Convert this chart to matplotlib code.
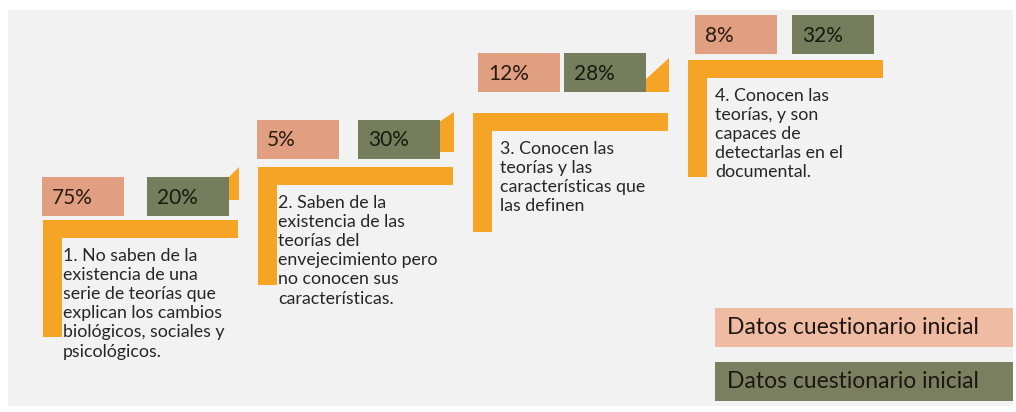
import matplotlib
matplotlib.use("Agg")
import matplotlib.pyplot as plt
from matplotlib.patches import Rectangle, Polygon

# ---------------- data ----------------
steps = ["1", "2", "3", "4"]
initial_pct = [75, 5, 12, 8]        # salmon boxes
final_pct = [20, 30, 28, 32]        # olive boxes
descriptions = [
    "1. No saben de la\nexistencia de una\nserie de teorías que\nexplican los cambios\nbiológicos, sociales y\npsicológicos.",
    "2. Saben de la\nexistencia de las\nteorías del\nenvejecimiento pero\nno conocen sus\ncaracterísticas.",
    "3. Conocen las\nteorías y las\ncaracterísticas que\nlas definen",
    "4. Conocen las\nteorías, y son\ncapaces de\ndetectarlas en el\ndocumental.",
]
legend_labels = ["Datos cuestionario inicial", "Datos cuestionario inicial"]

# ---------------- layout / style ----------------
W, H = 1016, 412
BG = "#f2f2f2"
ORANGE = "#f5a425"
SALMON = "#df9f80"
OLIVE = "#767d5c"
LEG_SALMON = "#efbba3"
LEG_OLIVE = "#7a805f"
TXT = "#262626"
FONT = ["Lato", "DejaVu Sans"]

bar_x = [43, 258, 473, 688]
bar_y = [220, 167, 113, 60]
bar_w = 195
bar_h = 18
vbar_w = 19
vbar_len = [117, 118, 119, 117]
sal_x = [42, 257, 478, 695]
oli_x = [147, 358, 564, 792]
box_y = [177, 120, 53, 15]
box_w = 82
box_h = 39
# tab offsets relative to box top: (left top, right top, bottom); None = no tab
tab_off = [(1, -10, 23), (2, -8, 32), (27, 5, 39), None]
text_x = [63, 278, 500, 715]

fig = plt.figure(figsize=(W / 100, H / 100), dpi=100)
fig.patch.set_facecolor("white")
ax = fig.add_axes([0, 0, 1, 1])
ax.set_xlim(0, W)
ax.set_ylim(H, 0)
ax.axis("off")

ax.add_patch(Rectangle((8, 10), 1005, 396, facecolor=BG, edgecolor="none"))

for i in range(len(steps)):
    bx, by = bar_x[i], bar_y[i]
    # L shape
    ax.add_patch(Rectangle((bx, by), bar_w, bar_h, facecolor=ORANGE, edgecolor="none"))
    ax.add_patch(Rectangle((bx, by), vbar_w, vbar_len[i], facecolor=ORANGE, edgecolor="none"))
    # tab
    if tab_off[i] is not None:
        lt, rt, bt = tab_off[i]
        ox = oli_x[i] + box_w - 1
        tx1 = bx + bar_w + 1
        y0 = box_y[i]
        ax.add_patch(Polygon([(ox, y0 + bt), (tx1, y0 + bt), (tx1, y0 + rt),
                              (ox, y0 + lt)], closed=True,
                             facecolor=ORANGE, edgecolor="none"))
    # boxes
    ax.add_patch(Rectangle((sal_x[i], box_y[i]), box_w, box_h, facecolor=SALMON, edgecolor="none"))
    ax.add_patch(Rectangle((oli_x[i], box_y[i]), box_w, box_h, facecolor=OLIVE, edgecolor="none"))
    ax.text(sal_x[i] + 10, box_y[i] + box_h / 2 + 1, f"{initial_pct[i]}%",
            fontsize=15, family=FONT, color="#2a1a12", va="center", ha="left")
    ax.text(oli_x[i] + 10, box_y[i] + box_h / 2 + 1, f"{final_pct[i]}%",
            fontsize=15, family=FONT, color="#161a10", va="center", ha="left")
    # description
    ax.text(text_x[i], by + bar_h + 10, descriptions[i], fontsize=12.8,
            family=FONT, color=TXT, va="top", ha="left", linespacing=1.24)

# legend boxes
leg_y = [308, 362]
leg_cols = [LEG_SALMON, LEG_OLIVE]
for y, c, lab in zip(leg_y, leg_cols, legend_labels):
    ax.add_patch(Rectangle((715, y), 298, 39, facecolor=c, edgecolor="none"))
    ax.text(727, y + 20, lab, fontsize=16.5, family=FONT, color="#1e1612",
            va="center", ha="left")

fig.savefig("out.png", dpi=100, facecolor=fig.get_facecolor())
